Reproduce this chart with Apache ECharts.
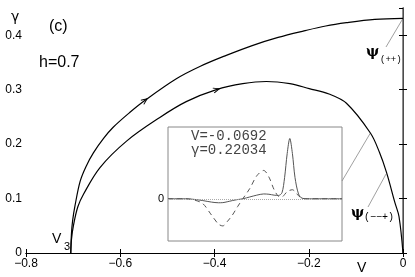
<!DOCTYPE html>
<html>
<head>
<meta charset="utf-8">
<script src="https://cdn.jsdelivr.net/npm/echarts@6/dist/echarts.min.js"></script>
<style>
  html, body { margin: 0; padding: 0; background: #fff; }
  #chart { width: 415px; height: 277px; }
</style>
</head>
<body>
<div id="chart"></div>
<script>
// gamma(V) branches for h=0.7, both leave V3
const upperV = [-0.705, -0.7035, -0.701, -0.696, -0.685, -0.672, -0.657, -0.635, -0.615, -0.58, -0.548,
  -0.481, -0.43, -0.375, -0.32, -0.265, -0.21, -0.164, -0.12, -0.06, 0];
const upperG = [0, 0.036, 0.06, 0.087, 0.132, 0.16, 0.184, 0.211, 0.231, 0.258, 0.28,
  0.32, 0.343, 0.363, 0.381, 0.396, 0.408, 0.417, 0.423, 0.429, 0.431];
const lowerV = [-0.705, -0.7035, -0.699, -0.69, -0.678, -0.643, -0.586, -0.516, -0.46, -0.396, -0.34,
  -0.29, -0.24, -0.199, -0.157, -0.12, -0.0692, -0.05, -0.035, -0.017, -0.0085, 0];
const lowerG = [0, 0.025, 0.052, 0.085, 0.108, 0.157, 0.206, 0.249, 0.278, 0.3, 0.311,
  0.315, 0.311, 0.302, 0.292, 0.275, 0.22034, 0.185, 0.148, 0.092, 0.067, 0];

// arrow positions on the branches
const upperArrow = [-0.548, 0.28];
const lowerArrow = [-0.396, 0.3];

// points the labels point at
const picked = [-0.0692, 0.22034];
const psiMinusPoint = [-0.036, 0.145];
const psiPlusPoint = [0, 0.431];

// inset: profile at the picked point
const insetX = [0, 10, 15, 20, 25, 29, 31.5, 34, 37, 40, 43, 47, 51, 55, 58, 61, 63.5, 65.5, 67, 68.5,
  70, 71.5, 73, 75, 77, 80, 100];
const insetSolid = [0, 0, -0.01, -0.03, -0.055, -0.066, -0.064, -0.05, -0.03, -0.013, 0, 0.03, 0.06, 0.08,
  0.075, 0.06, 0.055, 0.1, 0.35, 0.75, 1.0, 0.75, 0.35, 0.08, 0.01, 0, 0];
const insetDashed = [0, 0, -0.02, -0.08, -0.27, -0.42, -0.45, -0.38, -0.27, -0.13, 0, 0.17, 0.38, 0.47,
  0.36, 0.15, 0.04, 0.03, 0.07, 0.12, 0.14, 0.15, 0.12, 0.05, 0.01, 0, 0];

const zip = (a, b) => a.map((v, i) => [v, b[i]]);
const fmt = v => (v === 0 ? '0' : v.toFixed(1).replace('-', '\u2212'));
const sans = 'Liberation Sans, Arial, sans-serif';
const mono = 'Liberation Mono, monospace';

const frameAxis = {
  axisLine: { lineStyle: { color: '#000', width: 1 } },
  axisTick: { inside: true, length: 4, lineStyle: { color: '#000' } },
  splitLine: { show: false },
};

const arrowMark = (coord, rot) => ({
  symbol: 'path://M0,0L10,4L0,8',
  symbolSize: [6, 5],
  symbolRotate: rot,
  itemStyle: { color: 'transparent', borderColor: '#000', borderWidth: 1 },
  label: { show: false },
  data: [{ coord }],
});

const chart = echarts.init(document.getElementById('chart'));

chart.setOption({
  animation: false,
  backgroundColor: '#fff',
  grid: [
    { left: 26, right: 12, top: 8, bottom: 24 },
    { left: 168, top: 127, width: 174, height: 114, show: true, borderColor: '#888', borderWidth: 1 },
  ],
  xAxis: [
    Object.assign({}, frameAxis, {
      gridIndex: 0, type: 'value', min: -0.8, max: 0, interval: 0.2, position: 'bottom',
      axisLabel: { color: '#000', fontSize: 12, fontFamily: sans, margin: 5, formatter: fmt },
    }),
    Object.assign({}, frameAxis, {
      gridIndex: 0, type: 'value', min: -0.8, max: 0, interval: 0.2, position: 'top',
      axisLabel: { show: false },
    }),
    { gridIndex: 1, type: 'value', min: 0, max: 100, show: false },
  ],
  yAxis: [
    Object.assign({}, frameAxis, {
      gridIndex: 0, type: 'value', min: 0, max: 0.45, interval: 0.1, position: 'left',
      axisLabel: { color: '#000', fontSize: 12, fontFamily: sans, margin: 4, formatter: fmt, showMaxLabel: false },
    }),
    Object.assign({}, frameAxis, {
      gridIndex: 0, type: 'value', min: 0, max: 0.45, interval: 0.1, position: 'right',
      axisLine: { lineStyle: { color: '#666', width: 1.5 } },
      axisLabel: { show: false },
    }),
    {
      gridIndex: 1, type: 'value', min: -0.7, max: 1.19, interval: 0.7,
      axisLine: { show: false }, axisTick: { show: false }, splitLine: { show: false },
      axisLabel: { color: '#000', fontSize: 11, fontFamily: sans, margin: 4,
        formatter: v => (Math.abs(v) < 1e-9 ? '0' : '') },
    },
  ],
  series: [
    {
      type: 'line', xAxisIndex: 0, yAxisIndex: 0, data: zip(upperV, upperG),
      showSymbol: false, smooth: 0.35,
      lineStyle: { color: '#000', width: 1.2 },
      markPoint: arrowMark(upperArrow, 36),
    },
    {
      type: 'line', xAxisIndex: 0, yAxisIndex: 0, data: zip(lowerV, lowerG),
      showSymbol: false, smooth: 0.35,
      lineStyle: { color: '#000', width: 1.2 },
      markPoint: arrowMark(lowerArrow, 17),
    },
    {
      type: 'line', xAxisIndex: 2, yAxisIndex: 2, data: zip(insetX, insetSolid),
      showSymbol: false, smooth: 0.3,
      lineStyle: { color: '#555', width: 1 },
      markLine: {
        silent: true, symbol: 'none', label: { show: false },
        lineStyle: { color: '#aaa', type: 'dotted', width: 1 },
        data: [{ yAxis: 0 }],
      },
    },
    {
      type: 'line', xAxisIndex: 2, yAxisIndex: 2, data: zip(insetX, insetDashed),
      showSymbol: false, smooth: 0.3,
      lineStyle: { color: '#555', width: 1, type: [5, 4] },
    },
  ],
});

const px = p => chart.convertToPixel({ gridIndex: 0 }, p);
const leader = (from, to) => ({
  type: 'line', silent: true,
  shape: { x1: from[0], y1: from[1], x2: to[0], y2: to[1] },
  style: { stroke: '#888', lineWidth: 0.8 },
});
const txt = (text, x, y, font, fill) => ({
  type: 'text', silent: true,
  style: { text, x, y, font, fill: fill || '#000', verticalAlign: 'middle' },
});

const p1 = px(picked), p2 = px(psiMinusPoint), p3 = px(psiPlusPoint);

chart.setOption({
  graphic: [
    leader([342, 181], p1),
    leader([368, 207], p2),
    leader([386, 47], p3),
    txt('(c)', 49, 27, '16px ' + sans),
    txt('h=0.7', 39, 63, '16px ' + sans),
    txt('V', 52, 239, '14px ' + sans),
    txt('3', 64, 247, '11px ' + sans),
    txt('\u03b3', 11, 17, '14px DejaVu Sans, sans-serif'),
    txt('V', 357, 268, '14px ' + sans),
    txt('\u03c8', 366, 52, 'bold 14px DejaVu Serif, serif'),
    txt('(++)', 380, 60, '9px ' + mono),
    txt('\u03c8', 351, 213, 'bold 14px DejaVu Serif, serif'),
    txt('(\u2212\u2212+)', 364, 217, '10px ' + mono),
    txt('V=-0.0692', 191, 136, '14px ' + mono, '#444'),
    txt('\u03b3=0.22034', 191, 150, '14px ' + mono, '#444'),
  ],
});
</script>
</body>
</html>
